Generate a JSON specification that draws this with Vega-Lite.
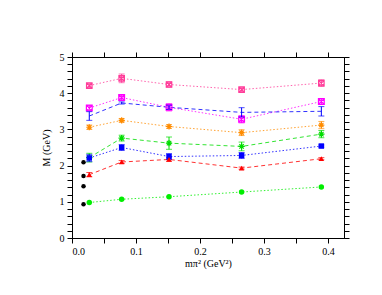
{
  "$schema": "https://vega.github.io/schema/vega-lite/v6.json",
  "width": 272,
  "height": 181,
  "autosize": {"type": "none"},
  "padding": {"left": 72, "top": 57, "right": 38, "bottom": 57},
  "background": "white",
  "config": {
    "view": {"stroke": "black", "strokeWidth": 1},
    "axis": {
      "domainColor": "black", "tickColor": "black", "labelColor": "black", "titleColor": "black",
      "labelFont": "Liberation Serif", "titleFont": "Liberation Serif",
      "labelFontSize": 10, "titleFontSize": 10, "titleFontWeight": "normal",
      "grid": false
    }
  },
  "data": {"values": [
    {"s": "S1", "x": 0.027, "y": 4.21, "e": 0.05},
    {"s": "S1", "x": 0.0776, "y": 4.41, "e": 0.12},
    {"s": "S1", "x": 0.1516, "y": 4.24, "e": 0.07},
    {"s": "S1", "x": 0.265, "y": 4.1, "e": 0.05},
    {"s": "S1", "x": 0.3896, "y": 4.28, "e": 0.09},
    {"s": "S2", "x": 0.027, "y": 3.59, "e": 0.07},
    {"s": "S2", "x": 0.0776, "y": 3.88, "e": 0.07},
    {"s": "S2", "x": 0.1516, "y": 3.61, "e": 0.1},
    {"s": "S2", "x": 0.265, "y": 3.28, "e": 0.1},
    {"s": "S2", "x": 0.3896, "y": 3.77, "e": 0.08},
    {"s": "S3", "x": 0.027, "y": 3.37, "e": 0.12},
    {"s": "S3", "x": 0.0776, "y": 3.73, "e": 0.03},
    {"s": "S3", "x": 0.1516, "y": 3.61, "e": 0.06},
    {"s": "S3", "x": 0.265, "y": 3.47, "e": 0.13},
    {"s": "S3", "x": 0.3896, "y": 3.5, "e": 0.13},
    {"s": "S4", "x": 0.027, "y": 3.06, "e": 0.06},
    {"s": "S4", "x": 0.0776, "y": 3.25, "e": 0.05},
    {"s": "S4", "x": 0.1516, "y": 3.08, "e": 0.05},
    {"s": "S4", "x": 0.265, "y": 2.91, "e": 0.08},
    {"s": "S4", "x": 0.3896, "y": 3.12, "e": 0.1},
    {"s": "S5", "x": 0.027, "y": 2.22, "e": 0.12},
    {"s": "S5", "x": 0.0776, "y": 2.76, "e": 0.08},
    {"s": "S5", "x": 0.1516, "y": 2.62, "e": 0.17},
    {"s": "S5", "x": 0.265, "y": 2.53, "e": 0.12},
    {"s": "S5", "x": 0.3896, "y": 2.87, "e": 0.1},
    {"s": "S6", "x": 0.027, "y": 2.21, "e": 0.1},
    {"s": "S6", "x": 0.0776, "y": 2.5, "e": 0.08},
    {"s": "S6", "x": 0.1516, "y": 2.25, "e": 0.08},
    {"s": "S6", "x": 0.265, "y": 2.28, "e": 0.08},
    {"s": "S6", "x": 0.3896, "y": 2.54, "e": 0.03},
    {"s": "S7", "x": 0.027, "y": 1.75, "e": 0.06},
    {"s": "S7", "x": 0.0776, "y": 2.1, "e": 0.04},
    {"s": "S7", "x": 0.1516, "y": 2.17, "e": 0.05},
    {"s": "S7", "x": 0.265, "y": 1.93, "e": 0.03},
    {"s": "S7", "x": 0.3896, "y": 2.19, "e": 0.03},
    {"s": "S8", "x": 0.027, "y": 0.98, "e": 0.01},
    {"s": "S8", "x": 0.0776, "y": 1.07, "e": 0.01},
    {"s": "S8", "x": 0.1516, "y": 1.14, "e": 0.01},
    {"s": "S8", "x": 0.265, "y": 1.27, "e": 0.01},
    {"s": "S8", "x": 0.3896, "y": 1.41, "e": 0.01},
    {"s": "K", "x": 0.018, "y": 2.09, "e": 0},
    {"s": "K", "x": 0.018, "y": 1.71, "e": 0},
    {"s": "K", "x": 0.018, "y": 1.43, "e": 0},
    {"s": "K", "x": 0.018, "y": 0.93, "e": 0}
  ]},
  "layer": [
    {
      "transform": [{"filter": "datum.s != 'K'"}],
      "mark": {"type": "line", "strokeWidth": 1, "opacity": 0.8},
      "encoding": {
        "x": {"field": "x", "type": "quantitative",
          "scale": {"domain": [0, 0.425], "nice": false},
          "axis": {"orient": "bottom", "title": "m\u03c0\u00b2 (GeV\u00b2)", "tickSize": 5, "labelPadding": 3,
            "tickCount": 9,
            "labelExpr": "abs(datum.value*10 - round(datum.value*10)) < 0.001 ? format(datum.value, '.1f') : ''",
            "titlePadding": 2}},
        "y": {"field": "y", "type": "quantitative",
          "scale": {"domain": [0, 5], "nice": false},
          "axis": {"orient": "left", "title": "M (GeV)", "tickSize": 5, "labelPadding": 3,
            "tickCount": 25,
            "labelExpr": "abs(datum.value - round(datum.value)) < 0.001 ? format(datum.value, 'd') : ''",
            "titlePadding": 8}},
        "color": {"field": "s", "type": "nominal", "legend": null,
          "scale": {"domain": ["S1", "S2", "S3", "S4", "S5", "S6", "S7", "S8"],
            "range": ["#ff3d9a", "#ff00ff", "#0000ff", "#ff8c00", "#00dd00", "#0000ff", "#ff0000", "#00ee00"]}},
        "strokeDash": {"field": "s", "type": "nominal", "legend": null,
          "scale": {"domain": ["S1", "S2", "S3", "S4", "S5", "S6", "S7", "S8"],
            "range": [[1.5, 2], [1.5, 2], [4, 3], [1.5, 2], [4, 3], [1.5, 2], [4, 3], [1.5, 2]]}}
      }
    },
    {
      "transform": [{"filter": "datum.s == 'S1' || datum.s == 'S2' || datum.s == 'S4' || datum.s == 'S5'"}],
      "mark": {"type": "point", "filled": false, "strokeWidth": 1.2, "opacity": 1},
      "encoding": {
        "x": {"field": "x", "type": "quantitative", "axis": {"orient": "top", "labels": false, "title": null, "tickSize": 5, "tickCount": 9}},
        "y": {"field": "y", "type": "quantitative", "axis": {"orient": "right", "labels": false, "title": null, "tickSize": 5, "tickCount": 25}},
        "color": {"field": "s", "type": "nominal", "legend": null},
        "shape": {"field": "s", "type": "nominal", "legend": null,
          "scale": {"domain": ["S1", "S2", "S4", "S5"],
            "range": ["M-1,-1H1V1H-1Z M-1,-1L1,1 M-1,1L1,-1", "M-1,-1H1V1H-1Z M-1,-1L1,1 M-1,1L1,-1", "M-1,0H1M0,-1V1M-0.7,-0.7L0.7,0.7M-0.7,0.7L0.7,-0.7", "M-1,0H1M0,-1V1M-0.7,-0.7L0.7,0.7M-0.7,0.7L0.7,-0.7"]}},
        "size": {"field": "s", "type": "nominal", "legend": null,
          "scale": {"domain": ["S1", "S2", "S4", "S5"], "range": [30, 40, 22, 40]}}
      }
    },
    {
      "transform": [{"filter": "datum.s != 'K' && datum.s != 'S8'"}],
      "mark": {"type": "errorbar", "ticks": {"size": 6}, "thickness": 1},
      "encoding": {
        "x": {"field": "x", "type": "quantitative", "axis": null},
        "y": {"field": "y", "type": "quantitative", "axis": null},
        "yError": {"field": "e"},
        "color": {"field": "s", "type": "nominal", "legend": null}
      }
    },
    {
      "transform": [{"filter": "datum.s == 'S6' || datum.s == 'S7' || datum.s == 'S8'"}],
      "mark": {"type": "point", "filled": true, "opacity": 1},
      "encoding": {
        "x": {"field": "x", "type": "quantitative", "axis": null},
        "y": {"field": "y", "type": "quantitative", "axis": null},
        "color": {"field": "s", "type": "nominal", "legend": null},
        "shape": {"field": "s", "type": "nominal", "legend": null,
          "scale": {"domain": ["S6", "S7", "S8"], "range": ["square", "triangle-up", "circle"]}}
      }
    },
    {
      "transform": [{"filter": "datum.s == 'K'"}],
      "mark": {"type": "point", "filled": true, "color": "black", "opacity": 1, "shape": "circle", "size": 20},
      "encoding": {
        "x": {"field": "x", "type": "quantitative", "axis": null},
        "y": {"field": "y", "type": "quantitative", "axis": null}
      }
    }
  ],
  "resolve": {"scale": {"shape": "independent", "size": "independent"}, "axis": {"x": "independent", "y": "independent"}}
}
